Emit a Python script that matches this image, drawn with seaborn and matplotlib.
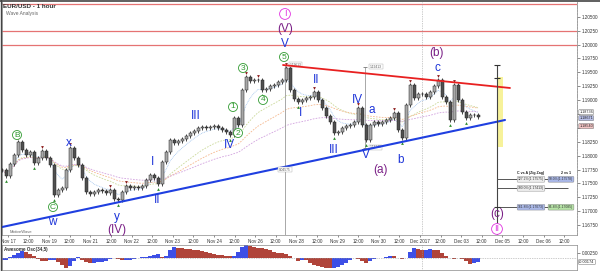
import numpy as np
import pandas as pd
import matplotlib
matplotlib.use("Agg")
import matplotlib.pyplot as plt
import seaborn as sns
from matplotlib.ticker import MultipleLocator
from matplotlib.patches import Rectangle

sns.set_theme(style="white")
plt.rcParams['font.family'] = ['Liberation Sans', 'DejaVu Sans']

# ---------------- data ----------------
closes = [
    1.17740, 1.17632, 1.17848, 1.18010, 1.18244, 1.18100, 1.18010, 1.18064, 1.17866, 1.17956,
    1.18082, 1.17956, 1.17830, 1.17290, 1.17380, 1.17416, 1.17740, 1.18136, 1.17956, 1.17830,
    1.17596, 1.17344, 1.17308, 1.17344, 1.17380, 1.17362, 1.17326, 1.17380, 1.17218, 1.17200,
    1.17344, 1.17452, 1.17416, 1.17434, 1.17416, 1.17452, 1.17560, 1.17650, 1.17596, 1.17488,
    1.17884, 1.18064, 1.18280, 1.18226, 1.18262, 1.18298, 1.18352, 1.18406, 1.18442, 1.18496,
    1.18514, 1.18496, 1.18514, 1.18532, 1.18496, 1.18460, 1.18424, 1.18370, 1.18676, 1.18550,
    1.19180, 1.19414, 1.19342, 1.19360, 1.19360, 1.19180, 1.19198, 1.19252, 1.19270, 1.19324,
    1.19360, 1.19576, 1.19180, 1.19018, 1.18964, 1.19000, 1.19036, 1.19054, 1.19144, 1.19000,
    1.18856, 1.18712, 1.18604, 1.18406, 1.18424, 1.18496, 1.18532, 1.18550, 1.18604, 1.18856,
    1.18550, 1.18280, 1.18550, 1.18604, 1.18568, 1.18604, 1.18640, 1.18676, 1.18766, 1.18460,
    1.18316, 1.18910, 1.19270, 1.19036, 1.19108, 1.19108, 1.19054, 1.19144, 1.19252, 1.19360,
    1.19054, 1.18964, 1.18640, 1.19270, 1.19000, 1.18784, 1.18676, 1.18730, 1.18730, 1.18694,
]

ao_values = [
    -0.0010, -0.0010, 0.0005, 0.0015, 0.0025, 0.0033, 0.0028, 0.0020, 0.0010, -0.0005,
    -0.0013, -0.0015, -0.0010, -0.0008, -0.0020, -0.0035, -0.0050, -0.0040, -0.0015, 0.0005,
    -0.0010, -0.0020, -0.0025, -0.0025, -0.0020, -0.0020, -0.0015, -0.0005, 0.0000, -0.0005,
    -0.0010, -0.0010, -0.0010, -0.0005, 0.0000, 0.0005, 0.0005, 0.0008, 0.0015, 0.0020,
    0.0005, 0.0010, 0.0040, 0.0055, 0.0050, 0.0048, 0.0045, 0.0043, 0.0040, 0.0038,
    0.0035, 0.0030, 0.0025, 0.0020, 0.0015, 0.0014, 0.0010, 0.0008, 0.0010, 0.0030,
    0.0055, 0.0065, 0.0060, 0.0055, 0.0050, 0.0048, 0.0045, 0.0040, 0.0030, 0.0025,
    0.0024, 0.0020, 0.0010, 0.0000, -0.0015, -0.0010, -0.0011, -0.0025, -0.0035, -0.0040,
    -0.0045, -0.0050, -0.0051, -0.0048, -0.0045, -0.0035, -0.0025, -0.0010, 0.0000, -0.0005,
    -0.0015, -0.0025, -0.0015, -0.0005, 0.0000, 0.0001, 0.0005, 0.0010, 0.0009, 0.0000,
    -0.0005, 0.0000, 0.0030, 0.0050, 0.0045, 0.0040, 0.0041, 0.0043, 0.0042, 0.0040,
    0.0025, 0.0010, 0.0000, -0.0005, 0.0000, -0.0005, -0.0015, -0.0030, -0.0025, -0.0020,
]

date_labels = ["Nov 17", "12:00", "Nov 19", "12:00", "Nov 21", "12:00", "Nov 22", "12:00",
               "Nov 23", "12:00", "Nov 24", "12:00", "Nov 26", "12:00", "Nov 28", "12:00",
               "Nov 29", "12:00", "Nov 30", "12:00", "Dec 2017", "12:00", "Dec 03", "12:00",
               "Dec 05", "12:00", "Dec 06", "12:00"]

price_ticks = [1.1675, 1.1700, 1.1725, 1.1750, 1.1775, 1.1800, 1.1825, 1.1850, 1.1875,
               1.1900, 1.1925, 1.1950, 1.1975, 1.2000, 1.2025, 1.2050]
hidden_ticks = [1.1850, 1.1875]  # covered by the current-price boxes

resistance_levels = [1.2073, 1.2025, 1.2000]
support_t = [0.0, 125.75]
support_p = [1.16717, 1.18642]
resist_t = [70.25, 127.0]
resist_p = [1.19631, 1.19218]

pivot_highs = [4, 10, 17, 27, 31, 61, 64, 71, 78, 89, 98, 102, 109, 113]
pivot_lows = [1, 8, 13, 29, 39, 57, 59, 65, 74, 83, 91, 100, 112, 116]

# (text, time, price, style)
wave_labels = [
    ("B", 3.75, 1.18372, "green"), ("C", 12.75, 1.17077, "green"),
    ("1", 57.75, 1.18876, "green"), ("2", 59.0, 1.18408, "green"),
    ("3", 60.25, 1.19577, "green"), ("4", 65.25, 1.19002, "green"),
    ("5", 70.5, 1.19775, "green"),
    ("w", 12.5, 1.16808, "blue"), ("x", 16.75, 1.18228, "blue"),
    ("y", 28.75, 1.16898, "blue"), ("I", 37.5, 1.17887, "blue"),
    ("II", 38.75, 1.17203, "blue"), ("III", 48.5, 1.18714, "blue"),
    ("IV", 56.75, 1.18192, "blue"), ("V", 70.75, 1.20009, "blue"),
    ("I", 74.5, 1.18768, "blue"), ("II", 78.5, 1.19361, "blue"),
    ("III", 83.0, 1.18102, "blue"), ("IV", 88.75, 1.19002, "blue"),
    ("a", 92.5, 1.18822, "blue"), ("V", 91.0, 1.18012, "blue"),
    ("b", 99.75, 1.17923, "blue"), ("c", 108.75, 1.19577, "blue"),
    ("(V)", 70.75, 1.20279, "purple"), ("(IV)", 28.75, 1.16664, "purple"),
    ("(a)", 94.5, 1.17743, "purple"), ("(b)", 108.75, 1.19847, "purple"),
    ("(c)", 123.75, 1.16952, "purple"),
    ("I", 70.75, 1.20549, "pink"), ("II", 123.75, 1.16682, "pink"),
]

fib_levels = [1.17575, 1.17413, 1.17073]
fib_left = ["127.2%(1.17575)", "100.0%(1.17413)", "161.8%(1.17073)"]
fib_left_colors = ["#ededed", "#ededed", "#aab8e8"]
fib_right = ["50.0%(1.17578)", None, "61.8%(1.17085)"]
fib_right_colors = ["#aab8e8", None, "#b6e3a6"]

target_box = (124.0, 125.25, 1.18155, 1.19414)

current_boxes = [(1.18784, "1.18736", "white"), (1.18676, "1.18671", "#b7bfe8"),
                 (1.18532, "1.18540", "#f3c4c4")]

# ---------------- figure ----------------
fig = plt.figure(figsize=(6.0, 2.71), dpi=100)
fig.patch.set_facecolor("white")
ax = fig.add_axes([2/600, 36/271, 575/600, 233/271])
ax2 = fig.add_axes([2/600, 1/271, 575/600, 25/271])

t = np.arange(len(closes))
c = np.array(closes)
o = np.r_[c[0], c[:-1]]
lo = np.minimum(o, c)
hi = np.maximum(o, c)

for lvl in resistance_levels:
    ax.axhline(lvl, color="#e57373", lw=0.9, zorder=1)

# moving averages
s = pd.Series(closes)
ma = pd.DataFrame({"t": t,
                   "fast": s.ewm(span=6).mean(),
                   "mid": s.ewm(span=18).mean(),
                   "slow": s.ewm(span=30).mean(),
                   "long": s.ewm(span=55).mean()})
sns.lineplot(data=ma, x="t", y="fast", ax=ax, color="#9fc3ee", lw=0.6, linestyle=(0, (1, 1)), zorder=2)
sns.lineplot(data=ma, x="t", y="mid", ax=ax, color="#cbd99a", lw=0.6, linestyle=(0, (2, 1.5)), zorder=2)
sns.lineplot(data=ma, x="t", y="slow", ax=ax, color="#f5b88e", lw=0.6, linestyle=(0, (2, 1.5)), zorder=2)
sns.lineplot(data=ma, x="t", y="long", ax=ax, color="#d2a2df", lw=0.6, linestyle=(0, (2, 1.5)), zorder=2)

# candles
ax.vlines(t, lo - 0.0004, hi + 0.0004, color="#2a2a2a", lw=0.6, zorder=3)
ax.bar(t, np.maximum(hi - lo, 0.00008), bottom=lo, width=0.75,
       color=np.where(c >= o, "#a8a8a8", "#505050"), edgecolor="#222222",
       linewidth=0.35, zorder=4)

# pivots
ph = np.array(pivot_highs)
pl = np.array(pivot_lows)
ax.scatter(ph, hi[ph] + 0.0008, marker="v", s=4, color="#8b1a1a", zorder=5, linewidths=0)
ax.scatter(pl, lo[pl] - 0.0008, marker="^", s=4, color="#2e8b2e", zorder=5, linewidths=0)

# trend lines
sns.lineplot(x=support_t, y=support_p, ax=ax, color="#1f3fe0", lw=1.5, zorder=6)
sns.lineplot(x=resist_t, y=resist_p, ax=ax, color="#e82020", lw=1.3, zorder=6)

# vertical lines
ax.axvline(105, color="#9a9a9a", lw=0.5, ls=(0, (1, 1.5)), zorder=1)
ax.vlines(70.75, 1.1650, 1.19631, color="#9a9a9a", lw=0.6, zorder=2)
ax.vlines(90.75, 1.18138, 1.19595, color="#9a9a9a", lw=0.6, zorder=2)
ax.plot([90.75, 90.75], [1.18138, 1.19595], ls="none", marker="_", ms=3, color="#777", mew=0.6)
ax.vlines(123.75, 1.1650, 1.19631, color="#444", lw=0.8, zorder=6)
ax.plot([123.75, 123.75], [1.19631, 1.19397], ls="none", marker="_", ms=4, color="#333", mew=0.8, zorder=7)
ax.plot([123.75], [1.17073], ls="none", marker="_", ms=4, color="#333", mew=0.8, zorder=7)
small_box = dict(boxstyle="square,pad=0.2", fc="white", ec="#aaa", lw=0.3)
ax.text(72.0, 1.19640, "1.19613", fontsize=2.3, color="#555", va="center", bbox=small_box)
ax.text(92.0, 1.19600, "1.19413", fontsize=2.3, color="#555", va="center", bbox=small_box)
ax.text(92.0, 1.18150, "1.18170", fontsize=2.3, color="#555", va="center", bbox=small_box)
ax.text(70.75, 1.17750, "0.04575", fontsize=2.3, color="#555", va="center", ha="center",
        bbox=small_box, zorder=7)

# yellow target zone
ax.add_patch(Rectangle((target_box[0], target_box[2]), target_box[1] - target_box[0],
                       target_box[3] - target_box[2], fc="#f7f29a", ec="none", zorder=5))

# fib levels
for lvl, lt, lc, rt, rc in zip(fib_levels, fib_left, fib_left_colors, fib_right, fib_right_colors):
    ax.hlines(lvl, 123.75, 141.5, color="#555", lw=0.7, zorder=6)
    ax.text(132.25, lvl, lt, fontsize=2.4, ha="center", va="center", color="#333", zorder=8,
            bbox=dict(boxstyle="round,pad=0.25", fc=lc, ec="#888", lw=0.3))
    if rt:
        ax.text(139.75, lvl, rt, fontsize=2.4, ha="center", va="center", color="#333", zorder=8,
                bbox=dict(boxstyle="round,pad=0.25", fc=rc, ec="#777", lw=0.3))
ax.text(132.25, 1.17680, "C vs A (Zig Zag)", fontsize=2.6, ha="center", va="center",
        color="#222", weight="bold")
ax.text(141.0, 1.17680, "2 vs 1", fontsize=2.6, ha="center", va="center", color="#222", weight="bold")

# wave labels
colors = {"green": "#2f9a2f", "blue": "#1d34d8", "purple": "#7a1f86", "pink": "#e030e0"}
for txt, tt, pp, st in wave_labels:
    if st == "green":
        ax.text(tt, pp, txt, fontsize=6, color=colors[st], ha="center", va="center", zorder=9,
                bbox=dict(boxstyle="circle,pad=0.12", fc="white", ec=colors[st], lw=0.6))
    elif st == "pink":
        ax.text(tt, pp, txt, fontsize=6.5, color=colors[st], ha="center", va="center", zorder=9,
                bbox=dict(boxstyle="circle,pad=0.1", fc="white", ec=colors[st], lw=0.6))
    else:
        ax.text(tt, pp, txt, fontsize=8.5, color=colors[st], ha="center", va="center", zorder=9)

# current price boxes on axis
for val, lab, fc in current_boxes:
    ax.text(1.004, val, lab, transform=ax.get_yaxis_transform(), fontsize=2.7,
            va="center", ha="left", color="#222", clip_on=False, zorder=10,
            bbox=dict(boxstyle="round,pad=0.12", fc=fc, ec="#555", lw=0.3))

ax.text(2.0, 1.16625, "MotiveWave", fontsize=3.0, color="#666", va="center")

# axes settings
ax.set_xlim(0, 143.75)
ax.set_ylim(1.165737, 1.207644)
ax.set_xlabel("")
ax.set_ylabel("")
ax.yaxis.tick_right()
ax.set_yticks(price_ticks)
ax.set_yticklabels(["" if v in hidden_ticks else f"{v:.5f}" for v in price_ticks])
ax.yaxis.set_minor_locator(MultipleLocator(0.0005))
ax.tick_params(axis="y", which="major", labelsize=3.3, length=2, width=0.4, pad=1.5,
               colors="#333", right=True)
ax.tick_params(axis="y", which="minor", length=1, width=0.3, colors="#333", right=True)
tick_pos = [1.5 + 5.15 * k for k in range(len(date_labels))]
ax.set_xticks(tick_pos)
ax.set_xticklabels(date_labels)
ax.tick_params(axis="x", labelsize=3.3, length=1.5, width=0.4, pad=1.5, colors="#333", bottom=True)
for sp in ax.spines.values():
    sp.set_color("#888")
    sp.set_linewidth(0.5)
ax.spines["top"].set_visible(False)

# oscillator
ao = np.array(ao_values)
prev = np.r_[ao[0], ao[:-1]]
ao_cols = np.where(ao >= prev, "#3d4fe6", "#b0443a")
ax2.bar(t, ao, width=0.9, color=ao_cols, edgecolor="none")
ax2.axhline(0, color="#999", lw=0.5, ls=(0, (1, 1.5)))
ax2.axvline(105, color="#9a9a9a", lw=0.5, ls=(0, (1, 1.5)))
ax2.set_xlim(0, 143.75)
ax2.set_ylim(-0.006, 0.0065)
ax2.yaxis.tick_right()
ax2.set_yticks([0.0025])
ax2.set_yticklabels(["0.00250"])
ax2.set_xticks([])
ax2.tick_params(axis="y", labelsize=3.3, length=2, width=0.4, pad=1.5, colors="#333", right=True)
for sp in ax2.spines.values():
    sp.set_color("#888")
    sp.set_linewidth(0.5)
ax2.text(1.004, ao[-1], "-0.00174", transform=ax2.get_yaxis_transform(), fontsize=2.8,
         va="center", ha="left", color="#222", clip_on=False,
         bbox=dict(boxstyle="round,pad=0.15", fc="white", ec="#555", lw=0.3))

fig.text(3/600, 1 - 6/271, "EUR/USD - 1 hour", fontsize=4.5, weight="bold", color="#333", va="center")
fig.text(6/600, 1 - 13/271, "Wave Analysis", fontsize=3.5, color="#666", va="center")
fig.text(4/600, 1 - 249/271, "Awesome Osc(34,5)", fontsize=3.3, weight="bold", color="#333", va="center")
fig.add_artist(plt.Line2D([0, 1], [0.998, 0.998], transform=fig.transFigure, color="#444", lw=1.2))
fig.add_artist(plt.Line2D([0.001, 0.001], [0, 1], transform=fig.transFigure, color="#444", lw=1.0))

fig.savefig("out.png", dpi=100, facecolor="white")
